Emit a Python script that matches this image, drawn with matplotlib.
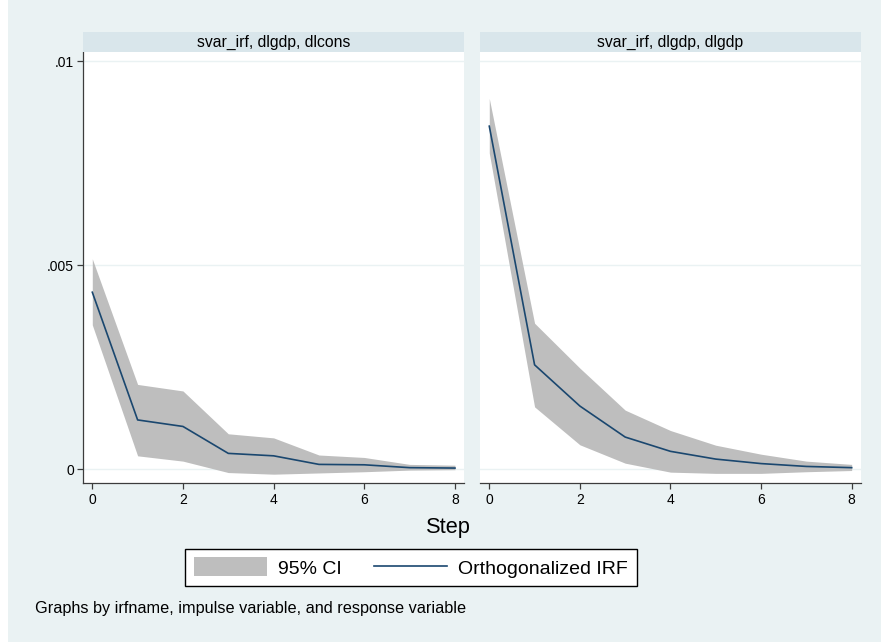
import matplotlib
matplotlib.use('Agg')
import matplotlib.pyplot as plt
from matplotlib.patches import Patch, Rectangle
from matplotlib.lines import Line2D

plt.rcParams['font.family'] = ['Liberation Sans', 'DejaVu Sans']

step = [0, 1, 2, 3, 4, 5, 6, 7, 8]
titles = ['svar_irf, dlgdp, dlcons', 'svar_irf, dlgdp, dlgdp']

# dlgdp -> dlcons
irf_cons = [0.00434, 0.00121, 0.00105, 0.00039, 0.00033, 0.00012, 0.00011, 0.00004, 0.00003]
hi_cons = [0.00516, 0.00208, 0.00192, 0.00087, 0.00077, 0.00035, 0.00029, 0.00012, 0.00010]
lo_cons = [0.00354, 0.00033, 0.00020, -0.00008, -0.00012, -0.00009, -0.00006, -0.00002, -0.00001]

# dlgdp -> dlgdp
irf_gdp = [0.00841, 0.00256, 0.00155, 0.00079, 0.00044, 0.00025, 0.00014, 0.00007, 0.00004]
hi_gdp = [0.00909, 0.00358, 0.00248, 0.00145, 0.00095, 0.00059, 0.00037, 0.00020, 0.00012]
lo_gdp = [0.00775, 0.00153, 0.00060, 0.00015, -0.00007, -0.00010, -0.00010, -0.00006, -0.00003]

yticks = [0, 0.005, 0.01]
ylabels = ['0', '.005', '.01']
xticks = [0, 2, 4, 6, 8]

bg = '#eaf2f3'
strip_col = '#d9e6eb'
ci_col = '#bebebe'
line_col = '#1a476f'
axis_col = '#3c3c3c'

fig = plt.figure(figsize=(8.81, 6.42), dpi=100, facecolor=bg)
W, H = 881.0, 642.0

# thin white margin on the left edge
fig.patches.append(Rectangle((0, 0), 8 / W, 1, transform=fig.transFigure,
                             facecolor='white', edgecolor='none', zorder=-1))

panels = [(83, 464.3, irf_cons, hi_cons, lo_cons),
          (480, 861, irf_gdp, hi_gdp, lo_gdp)]

for i, (x0, x1, irf, hi, lo) in enumerate(panels):
    ax = fig.add_axes([x0 / W, 1 - 483 / H, (x1 - x0) / W, (483 - 52) / H])
    ax.set_facecolor('white')
    ax.fill_between(step, lo, hi, color=ci_col, linewidth=0, zorder=2)
    ax.plot(step, irf, color=line_col, linewidth=1.2, zorder=3)
    ax.set_xlim(-0.205, 8.206)
    ax.set_ylim(-0.000336, 0.010228)
    for yv in yticks:
        ax.axhline(yv, color=bg, linewidth=1.0, zorder=1)
    ax.set_xticks(xticks)
    ax.set_xticklabels([str(t) for t in xticks])
    ax.tick_params(axis='x', direction='out', length=4, width=0.9, color=axis_col,
                   labelsize=10, pad=3)
    for s in ['top', 'right']:
        ax.spines[s].set_visible(False)
    ax.spines['bottom'].set_color(axis_col)
    ax.spines['bottom'].set_linewidth(0.9)
    if i == 0:
        ax.set_yticks(yticks)
        ax.set_yticklabels(ylabels)
        ax.tick_params(axis='y', direction='out', length=4.5, width=0.9, color=axis_col,
                       labelsize=10, pad=2)
        ax.spines['left'].set_color(axis_col)
        ax.spines['left'].set_linewidth(0.9)
    else:
        ax.set_yticks([])
        ax.spines['left'].set_visible(False)

    # strip title
    sax = fig.add_axes([x0 / W, 1 - 52 / H, (x1 - x0) / W, 20 / H])
    sax.set_facecolor(strip_col)
    sax.set_xticks([])
    sax.set_yticks([])
    for s in sax.spines.values():
        s.set_visible(False)
    sax.text(0.5, 0.5, titles[i], ha='center', va='center', fontsize=11.3,
             transform=sax.transAxes)

fig.text(448 / W, 1 - 527 / H, 'Step', ha='center', va='center', fontsize=15.7)

handles = [Patch(facecolor=ci_col, edgecolor='none'),
           Line2D([0], [0], color=line_col, linewidth=1.2)]
leg = fig.legend(handles, ['95% CI', 'Orthogonalized IRF'], ncol=2,
                 loc='center', bbox_to_anchor=(411 / W, 1 - 567.5 / H),
                 fontsize=14, frameon=True, fancybox=False, framealpha=1,
                 edgecolor='black', handlelength=3.75, handleheight=1.13,
                 handletextpad=0.57, columnspacing=1.65, borderpad=0.45)
leg.get_frame().set_linewidth(1.0)

fig.text(35 / W, 1 - 609 / H, 'Graphs by irfname, impulse variable, and response variable',
         ha='left', va='center', fontsize=11.7)

fig.savefig('out.png', dpi=100, facecolor=bg)
